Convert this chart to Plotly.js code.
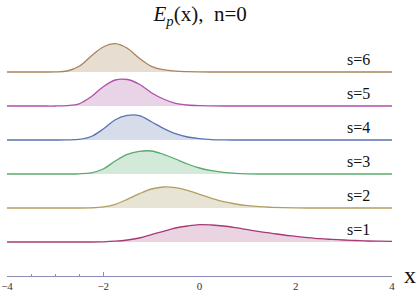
<!DOCTYPE html>
<html>
<head>
<meta charset="utf-8">
<script src="https://cdn.plot.ly/plotly-3.0.1.min.js"></script>
<style>html,body{margin:0;padding:0;background:#fff;}#chart{width:417px;height:295px;}</style>
</head>
<body>
<div id="chart"></div>
<script>
// Shared x grid
var xs = [-4,-3.75,-3.5,-3.25,-3,-2.75,-2.5,-2.25,-2,-1.75,-1.5,-1.25,-1,-0.75,-0.5,-0.25,0,0.25,0.5,0.75,1,1.25,1.5,1.75,2,2.25,2.5,2.75,3,3.25,3.5,3.75,4];

// Series values
var s1 = [0,0,0,0,0,0,0,0,0.2,0.8,2,4,7.3,10.7,14,16,17.3,17,16,14.3,12.3,10.3,8.7,7,5.7,4.4,3.3,2.6,2,1.5,1,0.8,0.7];
var s2 = [0,0,0,0,0,0,0,0.2,1.1,3.7,8.7,14.3,19,21,20.3,17.7,13.7,9.7,6.3,4,2.3,1.3,0.7,0.3,0.1,0,0,0,0,0,0,0,0];
var s3 = [0,0,0,0,0,0,0.2,1.2,5,13,19.7,22.7,23,19.7,15,10,6,3.3,1.7,0.7,0.2,0,0,0,0,0,0,0,0,0,0,0,0];
var s4 = [0,0,0,0,0,0.1,0.6,3.5,11,20.3,24.6,24.4,18.3,11.7,6.3,3,1.3,0.4,0.1,0,0,0,0,0,0,0,0,0,0,0,0,0,0];
var s5 = [0,0,0,0,0,0.4,2.2,9.3,19.3,26,26.5,21.7,13.3,7,2.7,1,0.3,0.1,0,0,0,0,0,0,0,0,0,0,0,0,0,0,0];
var s6 = [0,0,0,0,0.1,1,5.7,16,25,28.3,23.7,13.7,5.7,2.3,0.8,0.3,0.1,0,0,0,0,0,0,0,0,0,0,0,0,0,0,0,0];

var seriesNames = ["s=1","s=2","s=3","s=4","s=5","s=6"];
var seriesValues = [s1,s2,s3,s4,s5,s6];

var tickVals = [-4,-2,0,2,4];
var tickText = ["\u22124","\u22122","0","2","4"];

// styles
var lineColors = ["#a83a78","#b0a060","#5aaa6e","#5a74b4","#b050a8","#a8845c"];
var fillColors = ["#ebd4e2","#e8e4d5","#d3e9da","#d6dce9","#e9d3e7","#e8ddd1"];
var spacing = 34;
var serif = "'Liberation Serif', 'Times New Roman', Times, serif";

var traces = [];
var annotations = [];
for (var i = 0; i < seriesValues.length; i++) {
  var off = spacing * (i + 1);
  var base = xs.map(function(){ return off; });
  var ys = seriesValues[i].map(function(v){ return v + off; });
  traces.push({x: xs, y: base, mode: 'lines', line: {width: 0, color: lineColors[i]}, hoverinfo: 'skip', showlegend: false});
  traces.push({x: xs, y: ys, mode: 'lines', fill: 'tonexty', fillcolor: fillColors[i],
    line: {color: lineColors[i], width: 1.3, shape: 'spline', smoothing: 1}, showlegend: false});
  annotations.push({x: 3.3, y: off + 12.8, xref: 'x', yref: 'y', text: seriesNames[i], showarrow: false,
    font: {family: serif, size: 16, color: '#111'}, xanchor: 'center', yanchor: 'middle'});
}
annotations.push({x: 1, y: 0, xref: 'paper', yref: 'paper', text: 'x', showarrow: false, xanchor: 'center', yanchor: 'middle',
  xshift: 18, yshift: 1, font: {family: serif, size: 24, color: '#111'}});

var layout = {
  width: 417, height: 295,
  margin: {l: 7, r: 25, t: 30, b: 19, pad: 0},
  paper_bgcolor: '#fff', plot_bgcolor: '#fff',
  font: {family: serif},
  title: {text: '<i>E</i><sub><i>p</i></sub>(x),&nbsp;&nbsp;n=0', font: {family: serif, size: 21, color: '#111'},
    x: 0.48, xanchor: 'center', y: 1 - 14/295, yref: 'container', yanchor: 'middle'},
  xaxis: {range: [-4, 4], tickvals: tickVals, ticktext: tickText, ticks: '', showgrid: false, zeroline: false,
    showline: true, linecolor: '#8c8cbc', linewidth: 1.2, tickfont: {family: serif, size: 11, color: '#333'}, ticklabelstandoff: 0},
  xaxis2: {range: [-4, 4], overlaying: 'x', anchor: 'y', side: 'bottom', tickvals: [-4, -2, 4], ticks: 'inside', ticklen: 4,
    tickcolor: '#8c8cbc', tickwidth: 1, showticklabels: false, showgrid: false, zeroline: false, showline: false,
    minor: {tickmode: 'array', tickvals: [-3.5, -3, -2.5], ticks: 'inside', ticklen: 2.5, tickcolor: '#8c8cbc', showgrid: false}},
  yaxis: {range: [0, 246], visible: false, showgrid: false, zeroline: false},
  annotations: annotations,
  showlegend: false
};
traces.push({x: [-4, 4], y: [-10, -10], xaxis: 'x2', mode: 'lines', line: {width: 0}, hoverinfo: 'skip', showlegend: false});

Plotly.newPlot('chart', traces, layout, {staticPlot: true, displayModeBar: false});
</script>
</body>
</html>
